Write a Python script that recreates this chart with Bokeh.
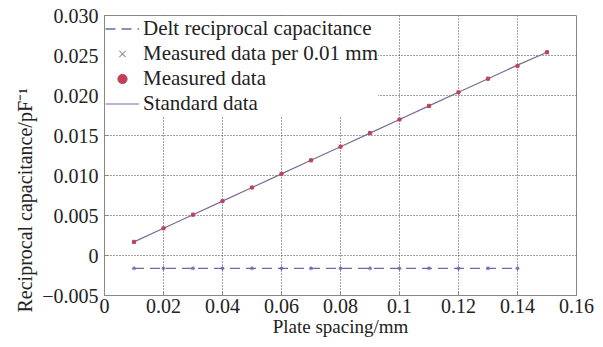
from bokeh.plotting import figure
from bokeh.models import FixedTicker, Legend, LegendItem, Range1d, Title
from bokeh.embed import file_html
from bokeh.resources import INLINE

# Data
x_meas = [0.01, 0.02, 0.03, 0.04, 0.05, 0.06, 0.07, 0.08, 0.09, 0.10, 0.11, 0.12, 0.13, 0.14, 0.15]
y_meas = [0.0017, 0.0034, 0.0051, 0.0068, 0.0085, 0.0102, 0.0119, 0.0136, 0.0153,
          0.0170, 0.0187, 0.0204, 0.0221, 0.0237, 0.0254]
y_std = [0.0017, 0.0034, 0.0051, 0.0068, 0.0085, 0.0102, 0.0119, 0.0136, 0.0153,
         0.0170, 0.0187, 0.0204, 0.0221, 0.0238, 0.0254]
x_delt = [0.01, 0.02, 0.03, 0.04, 0.05, 0.06, 0.07, 0.08, 0.09, 0.10, 0.11, 0.12, 0.13, 0.14]
y_delt = [-0.0016, -0.0016, -0.0016, -0.0016, -0.0016, -0.0016, -0.0016, -0.0016,
          -0.0016, -0.0016, -0.0016, -0.0016, -0.0016, -0.0016]
x_ticks = [0, 0.02, 0.04, 0.06, 0.08, 0.10, 0.12, 0.14, 0.16]
x_tick_labels = ["0", "0.02", "0.04", "0.06", "0.08", "0.1", "0.12", "0.14", "0.16"]
y_ticks = [-0.005, 0, 0.005, 0.010, 0.015, 0.020, 0.025, 0.030]
y_tick_labels = ["\u22120.005", "0", "0.005", "0.010", "0.015", "0.020", "0.025", "0.030"]
y_title = "Reciprocal capacitance/pF\u207b\u00b9"
x_title = "Plate spacing/mm"

FONT = "Liberation Serif"

p = figure(width=603, height=347, output_backend="svg", toolbar_location=None,
           x_range=Range1d(0, 0.16), y_range=Range1d(-0.005, 0.030),
           min_border_left=104, min_border_right=27, min_border_top=15, min_border_bottom=52)
p.background_fill_color = "white"
p.border_fill_color = "white"
p.outline_line_color = "#888888"
p.outline_line_width = 1

for ax in (p.xaxis[0], p.yaxis[0]):
    ax.axis_line_color = "#888888"
    ax.major_tick_in = 4
    ax.major_tick_out = 0
    ax.minor_tick_line_color = None
    ax.major_tick_line_color = "#888888"
    ax.major_label_text_font = FONT
    ax.major_label_text_font_size = "20px"
    ax.major_label_text_color = "#222222"
    ax.axis_label_text_font = FONT
    ax.axis_label_text_font_size = "19px"
    ax.axis_label_text_font_style = "normal"
    ax.axis_label_text_color = "#222222"

p.xaxis[0].ticker = FixedTicker(ticks=x_ticks)
p.xaxis[0].major_label_overrides = {t: l for t, l in zip(x_ticks, x_tick_labels)}
p.xaxis[0].axis_label = x_title
p.xaxis[0].axis_label_standoff = 0
p.xaxis[0].major_label_standoff = 3
p.yaxis[0].ticker = FixedTicker(ticks=y_ticks)
p.yaxis[0].major_label_overrides = {t: l for t, l in zip(y_ticks, y_tick_labels)}
p.yaxis[0].major_label_standoff = 6

ytitle = Title(text=y_title, align="left", offset=-17, text_font=FONT,
               text_font_size="20px", text_font_style="normal", text_color="#222222",
               standoff=8)
p.add_layout(ytitle, "left")

p.xgrid.ticker = FixedTicker(ticks=x_ticks[1:-1])
p.ygrid.ticker = FixedTicker(ticks=y_ticks[1:-1])
for g in (p.xgrid[0], p.ygrid[0]):
    g.grid_line_color = "#444444"
    g.grid_line_dash = "1 2"
    g.grid_line_width = 1

r_delt = p.line(x_delt, y_delt, line_color="#6a6ab0", line_dash="10 6", line_width=1.3)
r_delt_m = p.scatter(x_delt, y_delt, marker="asterisk", size=4, line_color="#6a6ab0")
r_std = p.line(x_meas, y_std, line_color="#7a6a9a", line_width=1.2)
r_x = p.scatter(x_meas, y_meas, marker="x", size=5, line_color="#666666", line_width=1)
r_meas = p.scatter(x_meas, y_meas, marker="circle", size=3.5, fill_color="#c0405a",
                   line_color="#c0405a")

legend = Legend(items=[
    LegendItem(label="Delt reciprocal capacitance", renderers=[r_delt]),
    LegendItem(label="Measured data per 0.01 mm", renderers=[r_x]),
    LegendItem(label="Measured data", renderers=[r_meas]),
    LegendItem(label="Standard data", renderers=[r_std]),
], location="top_left")
legend.label_text_font = FONT
legend.label_text_font_size = "21px"
legend.label_text_color = "#222222"
legend.border_line_color = None
legend.background_fill_color = "white"
legend.background_fill_alpha = 1
legend.spacing = 0
legend.padding = 1
legend.margin = 1
legend.glyph_width = 34
legend.glyph_height = 23
legend.label_height = 23
legend.label_standoff = 4
p.add_layout(legend)

open("out.html", "w").write(file_html(p, INLINE))
